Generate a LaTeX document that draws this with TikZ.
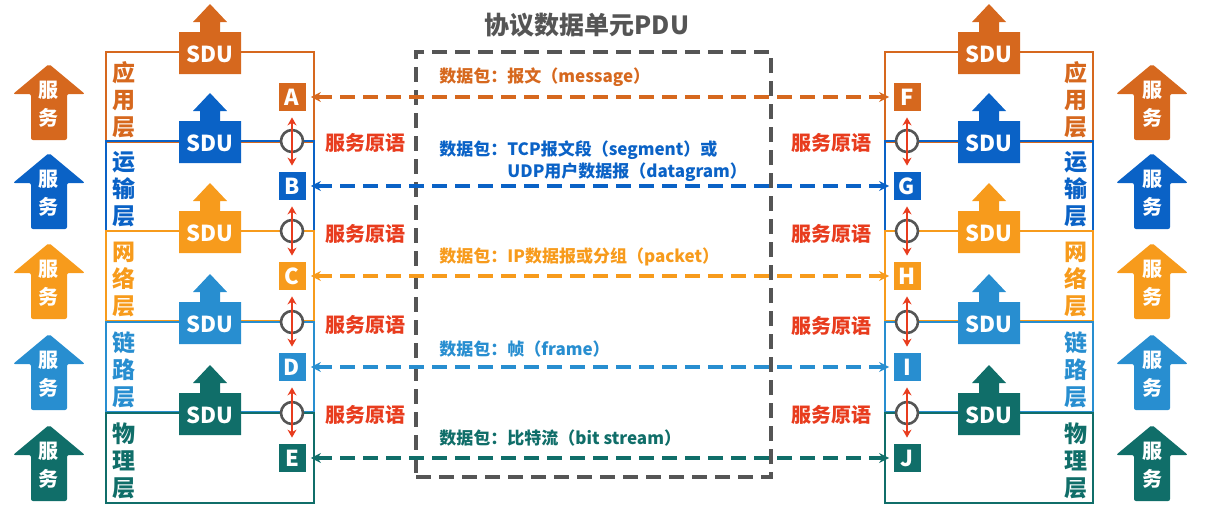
\documentclass[tikz,border=0pt]{standalone}
\usepackage{fontspec}
\setmainfont{Noto Sans CJK SC}
\usepackage{xcolor}
\usepackage{tikz}
\usetikzlibrary{arrows.meta, positioning}
\definecolor{appc}{RGB}{214,104,30}
\definecolor{trpc}{RGB}{10,98,198}
\definecolor{netc}{RGB}{247,155,28}
\definecolor{lnkc}{RGB}{40,142,208}
\definecolor{phyc}{RGB}{16,110,105}
\definecolor{primc}{RGB}{232,60,30}
\definecolor{pgray}{RGB}{85,85,85}

\begin{document}
\begin{tikzpicture}[x=0.5pt, y=-0.5pt,
    layerbox/.style={draw, line width=1.2pt},
    letterbox/.style={
        rectangle, minimum width=13.5pt, minimum height=14pt,
        inner sep=0pt, text=white,
        font=\bfseries\fontsize{11}{12}\selectfont
    },
    joint/.style={circle, draw=pgray, line width=1.3pt, fill=white,
        minimum size=11pt, inner sep=0pt},
    prim/.style={{Stealth[length=4pt,width=4.5pt]}-{Stealth[length=4pt,width=4.5pt]},
        line width=1pt, primc, shorten <=3pt, shorten >=3pt},
    pdulink/.style={{Stealth[length=5pt,width=5pt]}-{Stealth[length=5pt,width=5pt]},
        line width=1.6pt, dash pattern=on 7.5pt off 4pt,
        shorten <=2.5pt, shorten >=2pt},
    sdutext/.style={text=white, inner sep=0pt, font=\bfseries\fontsize{11}{12}\selectfont},
    lyrtext/.style={align=center, inner sep=0pt, font=\bfseries\fontsize{11.5}{13.5}\selectfont},
    svctext/.style={align=center, text=white, inner sep=0pt, font=\bfseries\fontsize{10}{14}\selectfont},
    primtext/.style={text=primc, inner sep=0pt, font=\bfseries\fontsize{10}{12}\selectfont},
    pdutext/.style={anchor=west, align=left, inner sep=0pt, font=\bfseries\fontsize{8.5}{11}\selectfont}
]
\useasboundingbox (0,0) rectangle (1213,521);

% protocol data unit frame
\node[draw=pgray, line width=2pt, dash pattern=on 7.5pt off 4pt,
      minimum width=177.5pt, minimum height=212.5pt, inner sep=0pt] (pdu) at (593.5,264.5) {};
\node[text=pgray, inner sep=0pt, font=\bfseries\fontsize{12.5}{14}\selectfont] (title) at (587,25) {协议数据单元PDU};

% layers, SDU and service arrows
\foreach \ty/\lc/\ll/\rl in {52/appc/A/F, 141/trpc/B/G, 231/netc/C/H, 322/lnkc/D/I, 413/phyc/E/J} {
    \draw[layerbox, \lc] (106,\ty) rectangle ++(208,90);
    \draw[layerbox, \lc] (885,\ty) rectangle ++(208,90);
    \fill[\lc, rounded corners=1pt] (49,\ty+12) -- (85,\ty+42) -- (67,\ty+42) -- (67,\ty+88)
        -- (31,\ty+88) -- (31,\ty+42) -- (13,\ty+42) -- cycle;
    \fill[\lc, rounded corners=1pt] (1152,\ty+12) -- (1188,\ty+42) -- (1170,\ty+42) -- (1170,\ty+88)
        -- (1134,\ty+88) -- (1134,\ty+42) -- (1116,\ty+42) -- cycle;
    \node[svctext] at (49,\ty+52) {服\\务};
    \node[svctext] at (1152,\ty+52) {服\\务};
    \fill[\lc] (210,\ty-48) -- (227,\ty-30) -- (220,\ty-30) -- (220,\ty-20) -- (241,\ty-20)
        -- (241,\ty+22) -- (179,\ty+22) -- (179,\ty-20) -- (200,\ty-20) -- (200,\ty-30) -- (193,\ty-30) -- cycle;
    \fill[\lc] (989,\ty-48) -- (1006,\ty-30) -- (999,\ty-30) -- (999,\ty-20) -- (1020,\ty-20)
        -- (1020,\ty+22) -- (958,\ty+22) -- (958,\ty-20) -- (979,\ty-20) -- (979,\ty-30) -- (972,\ty-30) -- cycle;
    \node[sdutext] at (210,\ty+2) {SDU};
    \node[sdutext] at (989,\ty+2) {SDU};
    \node[letterbox, fill=\lc] (\ll) at (292,\ty+45) {\ll};
    \node[letterbox, fill=\lc] (\rl) at (907,\ty+45) {\rl};
}

\node[lyrtext, appc] (lapp) at (124,100) {应\\用\\层};
\node[lyrtext, trpc] (ltrp) at (124,189) {运\\输\\层};
\node[lyrtext, netc] (lnet) at (124,279) {网\\络\\层};
\node[lyrtext, lnkc] (llnk) at (124,370) {链\\路\\层};
\node[lyrtext, phyc] (lphy) at (124,461) {物\\理\\层};
\node[lyrtext, appc] (rapp) at (1076,100) {应\\用\\层};
\node[lyrtext, trpc] (rtrp) at (1076,189) {运\\输\\层};
\node[lyrtext, netc] (rnet) at (1076,279) {网\\络\\层};
\node[lyrtext, lnkc] (rlnk) at (1076,370) {链\\路\\层};
\node[lyrtext, phyc] (rphy) at (1076,461) {物\\理\\层};

% service access points
\node[joint] (jb) at (292,141) {};
\node[joint] (jc) at (292,231) {};
\node[joint] (jd) at (292,322) {};
\node[joint] (je) at (292,413) {};
\node[joint] (jg) at (907,141) {};
\node[joint] (jh) at (907,231) {};
\node[joint] (ji) at (907,322) {};
\node[joint] (jj) at (907,413) {};

\draw[prim] (A) -- (B);
\draw[prim] (B) -- (C);
\draw[prim] (C) -- (D);
\draw[prim] (D) -- (E);
\draw[prim] (F) -- (G);
\draw[prim] (G) -- (H);
\draw[prim] (H) -- (I);
\draw[prim] (I) -- (J);

\node[primtext] (pl1) at (365,143) {服务原语};
\node[primtext] (pl2) at (365,234) {服务原语};
\node[primtext] (pl3) at (365,325) {服务原语};
\node[primtext] (pl4) at (365,415) {服务原语};
\node[primtext] (pr1) at (831,143) {服务原语};
\node[primtext] (pr2) at (831,234) {服务原语};
\node[primtext] (pr3) at (831,326) {服务原语};
\node[primtext] (pr4) at (831,415) {服务原语};

% peer links
\draw[pdulink, appc] (A) -- (F);
\draw[pdulink, trpc] (B) -- (G);
\draw[pdulink, netc] (C) -- (H);
\draw[pdulink, lnkc] (D) -- (I);
\draw[pdulink, phyc] (E) -- (J);

\node[pdutext, appc] (msg) at (439,77) {数据包：报文（message）};
\node[pdutext, trpc] (seg) at (439,161) {数据包：TCP报文段（segment）或\\\phantom{数据包：}UDP用户数据报（datagram）};
\node[pdutext, netc] (pkt) at (439,257) {数据包：IP数据报或分组（packet）};
\node[pdutext, lnkc] (frm) at (439,349) {数据包：帧（frame）};
\node[pdutext, phyc] (bit) at (439,438) {数据包：比特流（bit stream）};
\end{tikzpicture}
\end{document}
